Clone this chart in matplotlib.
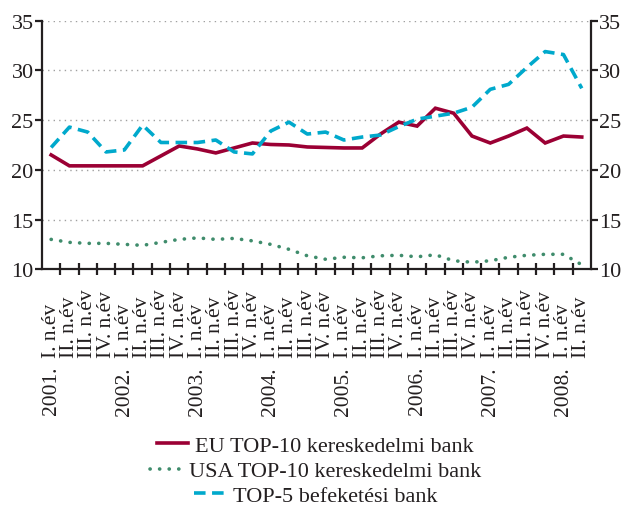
import matplotlib
matplotlib.use('Agg')
import matplotlib.pyplot as plt
from matplotlib.lines import Line2D
import matplotlib.transforms as mtransforms

plt.rcParams['font.family'] = ['Liberation Serif', 'DejaVu Serif']

# quarterly axis 2001 Q1 .. 2008 Q2
quarter_labels = ['I. n.év', 'II. n.év', 'III. n.év', 'IV. n.év'] * 7 + ['I. n.év', 'II. n.év']
year_labels = ['2001.', '2002.', '2003.', '2004.', '2005.', '2006.', '2007.', '2008.']

eu_top10 = [21.5, 20.4, 20.4, 20.4, 20.4, 20.4, 21.4, 22.4, 22.1, 21.7,
            22.2, 22.7, 22.55, 22.5, 22.3, 22.25, 22.2, 22.2, 23.6, 24.8,
            24.4, 26.2, 25.7, 23.4, 22.7, 23.4, 24.2, 22.7, 23.4, 23.3]
usa_top10 = [13.0, 12.7, 12.6, 12.6, 12.5, 12.4, 12.7, 13.0, 13.15, 13.0,
             13.1, 12.85, 12.5, 12.0, 11.35, 11.0, 11.2, 11.15, 11.35, 11.4,
             11.25, 11.45, 10.85, 10.7, 10.85, 11.2, 11.4, 11.5, 11.5, 10.45]
top5_inv = [22.25, 24.3, 23.8, 21.8, 22.0, 24.5, 22.75, 22.75, 22.75, 23.0,
            21.8, 21.6, 23.9, 24.8, 23.6, 23.8, 23.0, 23.3, 23.5, 24.35,
            25.1, 25.4, 25.7, 26.3, 28.1, 28.6, 30.3, 31.9, 31.6, 28.2]

c_eu = '#9b0034'
c_usa = '#3f8c6c'
c_top5 = '#00a9cc'
txt = '#231f20'

fig = plt.figure(figsize=(6.22, 5.06), dpi=100)
ax = fig.add_axes([0.0675, 0.466, 0.8825, 0.491])

n = len(quarter_labels)
x = list(range(n))
ax.plot(x, eu_top10, color=c_eu, lw=2.6, solid_joinstyle='miter')
ax.plot(x, usa_top10, color=c_usa, lw=2.6, linestyle=(0, (0.05, 2.6)),
        dash_capstyle='round')
ax.plot(x, top5_inv, color=c_top5, lw=2.6, linestyle=(0, (3.2, 1.8)))

ax.set_xlim(-0.5, n - 0.5)
ax.set_ylim(10, 35)
ax.set_yticks([10, 15, 20, 25, 30, 35])
for v in [15, 20, 25, 30, 35]:
    ax.axhline(v, color='#a0a0a0', lw=1, linestyle=(0, (1, 3)), zorder=0)

ax.spines['top'].set_visible(False)
for s in ['left', 'right', 'bottom']:
    ax.spines[s].set_linewidth(1.6)
    ax.spines[s].set_color(txt)

ax.tick_params(axis='y', direction='out', length=5, width=1.6, labelsize=16,
               colors=txt, right=True, labelright=True, pad=1)
# tick marks at category boundaries
ax.set_xticks([i + 0.5 for i in range(n - 1)])
ax.set_xticklabels([])
ax.tick_params(axis='x', direction='inout', length=8, width=1.6, colors=txt)

# quarter labels start at a common baseline, year below
trans = mtransforms.blended_transform_factory(ax.transData, ax.transAxes)
for i, lab in enumerate(quarter_labels):
    ax.text(i, -0.352, lab, transform=trans, rotation=90, ha='center',
            va='bottom', fontsize=15.5, color=txt)
for k, yl in enumerate(year_labels):
    ax.text(4 * k, -0.39, yl, transform=trans, rotation=90, ha='center',
            va='top', fontsize=15.5, color=txt)

entries = [
    (Line2D([], [], color=c_eu, lw=2.6), 'EU TOP-10 kereskedelmi bank', 0.117),
    (Line2D([], [], color=c_usa, lw=2.6, linestyle=(0, (0.05, 2.6)),
            dash_capstyle='round'), 'USA TOP-10 kereskedelmi bank', 0.067),
    (Line2D([], [], color=c_top5, lw=2.6, linestyle=(0, (3.2, 1.8))),
     'TOP-5 befeketési bank', 0.019),
]
for h, lab, yy in entries:
    fig.legend(handles=[h], labels=[lab], loc='center', bbox_to_anchor=(0.507, yy),
               frameon=False, fontsize=16, handlelength=1.4, handletextpad=0.35,
               borderpad=0, labelcolor=txt)

fig.savefig('out.png', dpi=100)
